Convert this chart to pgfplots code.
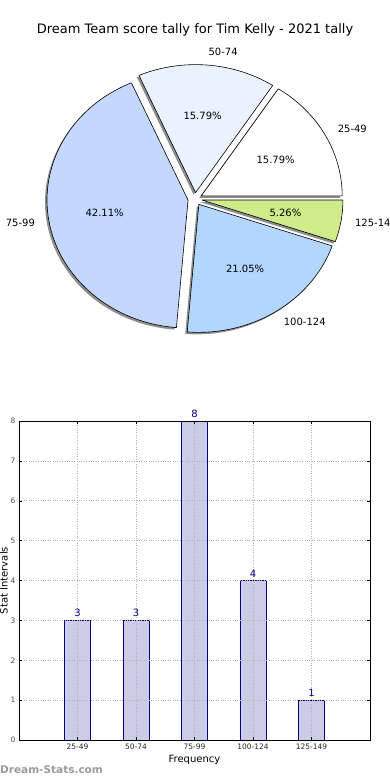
\documentclass[border=0pt]{standalone}
\usepackage{pgfplots}
\pgfplotsset{compat=1.18}
\usepackage{fontspec}
\setmainfont{DejaVu Sans}
\definecolor{c1}{HTML}{FFFFFF}
\definecolor{c2}{HTML}{EAF2FF}
\definecolor{c3}{HTML}{C4D8FF}
\definecolor{c4}{HTML}{B3D6FF}
\definecolor{c5}{HTML}{CFEB8A}
\definecolor{barfill}{HTML}{CCCCE6}
\definecolor{baredge}{HTML}{000080}
\definecolor{shadowc}{HTML}{8E8E8E}
\definecolor{wm}{HTML}{9A9A9A}
\begin{document}
\begin{tikzpicture}[x=1pt,y=1pt]
\useasboundingbox (0,0) rectangle (390,780);
\node[font=\fontsize{13}{15}\selectfont] at (195,750) {Dream Team score tally for Tim Kelly - 2021 tally};
\begin{axis}[at={(195pt,581pt)}, anchor=center, scale only axis,
  width=282pt, height=256pt, xmin=-1, xmax=1, ymin=-1, ymax=1,
  hide axis, clip=false]
\addplot[draw=none, mark=none] coordinates {(0,0)};
\pgfplotsextra{%
  \xdef\cum{0}%
  \foreach \v/\c/\l in {3/c1/25-49, 3/c2/50-74, 8/c3/75-99, 4/c4/100-124, 1/c5/125-149}{%
    \pgfmathsetmacro\aone{\cum}%
    \pgfmathsetmacro\atwo{\cum+360*\v/19}%
    \pgfmathsetmacro\am{(\aone+\atwo)/2}%
    \pgfmathsetmacro\ex{0.05*cos(\am)}%
    \pgfmathsetmacro\ey{0.05*sin(\am)}%
    \fill[shadowc, xshift=-2pt, yshift=-2pt] (axis cs:\ex,\ey) -- (axis cs:{\ex+cos(\aone)},{\ey+sin(\aone)}) arc[start angle=\aone, end angle=\atwo, x radius=141pt, y radius=128pt] -- cycle;
    \filldraw[fill=\c, draw=black, line width=0.6pt, line join=round] (axis cs:\ex,\ey) -- (axis cs:{\ex+cos(\aone)},{\ey+sin(\aone)}) arc[start angle=\aone, end angle=\atwo, x radius=141pt, y radius=128pt] -- cycle;
    \pgfmathtruncatemacro\pos{cos(\am)>0}%
    \ifnum\pos=1 \def\anc{west}\else\def\anc{east}\fi
    \node[anchor=\anc, inner sep=0pt, font=\fontsize{10}{12}\selectfont] at (axis cs:{\ex+1.1*cos(\am)},{\ey+1.1*sin(\am)}) {\l};
    \pgfmathsetmacro\pct{100*\v/19}%
    \node[inner sep=0pt, font=\fontsize{10}{12}\selectfont] at (axis cs:{\ex+0.6*cos(\am)},{\ey+0.6*sin(\am)}) {\pgfmathprintnumber[fixed,precision=2,fixed zerofill,assume math mode=true]{\pct}\%};
    \xdef\cum{\atwo}%
  }%
}
\end{axis}
\begin{axis}[at={(19pt,40pt)}, anchor=south west, scale only axis,
  width=351pt, height=319pt, xmin=-1, xmax=5, ymin=0, ymax=8,
  xtick={0,1,2,3,4}, xticklabels={25-49,50-74,75-99,100-124,125-149},
  ytick={0,1,2,3,4,5,6,7,8},
  grid=major, grid style={dotted, gray!60, line width=0.7pt},
  axis on top, tick align=inside, major tick length=3pt,
  tick style={black, line width=0.5pt}, axis line style={line width=0.8pt},
  /pgf/number format/assume math mode=true,
  xticklabel style={font=\fontsize{7.5}{9}\selectfont, text=black!85},
  yticklabel style={font=\fontsize{7.5}{9}\selectfont, text=black!70},
  xlabel={Frequency}, ylabel={Stat Intervals},
  xlabel style={at={(axis description cs:0.5,-0.0627)}, anchor=center, font=\fontsize{10}{12}\selectfont},
  ylabel style={at={(axis description cs:-0.043,0.5)}, anchor=center, font=\fontsize{10}{12}\selectfont},
  nodes near coords,
  nodes near coords style={font=\fontsize{10}{12}\selectfont, text=baredge, inner sep=3pt},
  ]
\addplot[ybar, bar width=26pt, fill=barfill, draw=baredge, line width=0.8pt]
  coordinates {(0,3) (1,3) (2,8) (3,4) (4,1)};
\end{axis}
\node[anchor=west, text=wm, font=\bfseries\fontsize{10.5}{12}\selectfont, inner sep=0pt] at (0,10) {Dream-Stats.com};
\end{tikzpicture}
\end{document}
